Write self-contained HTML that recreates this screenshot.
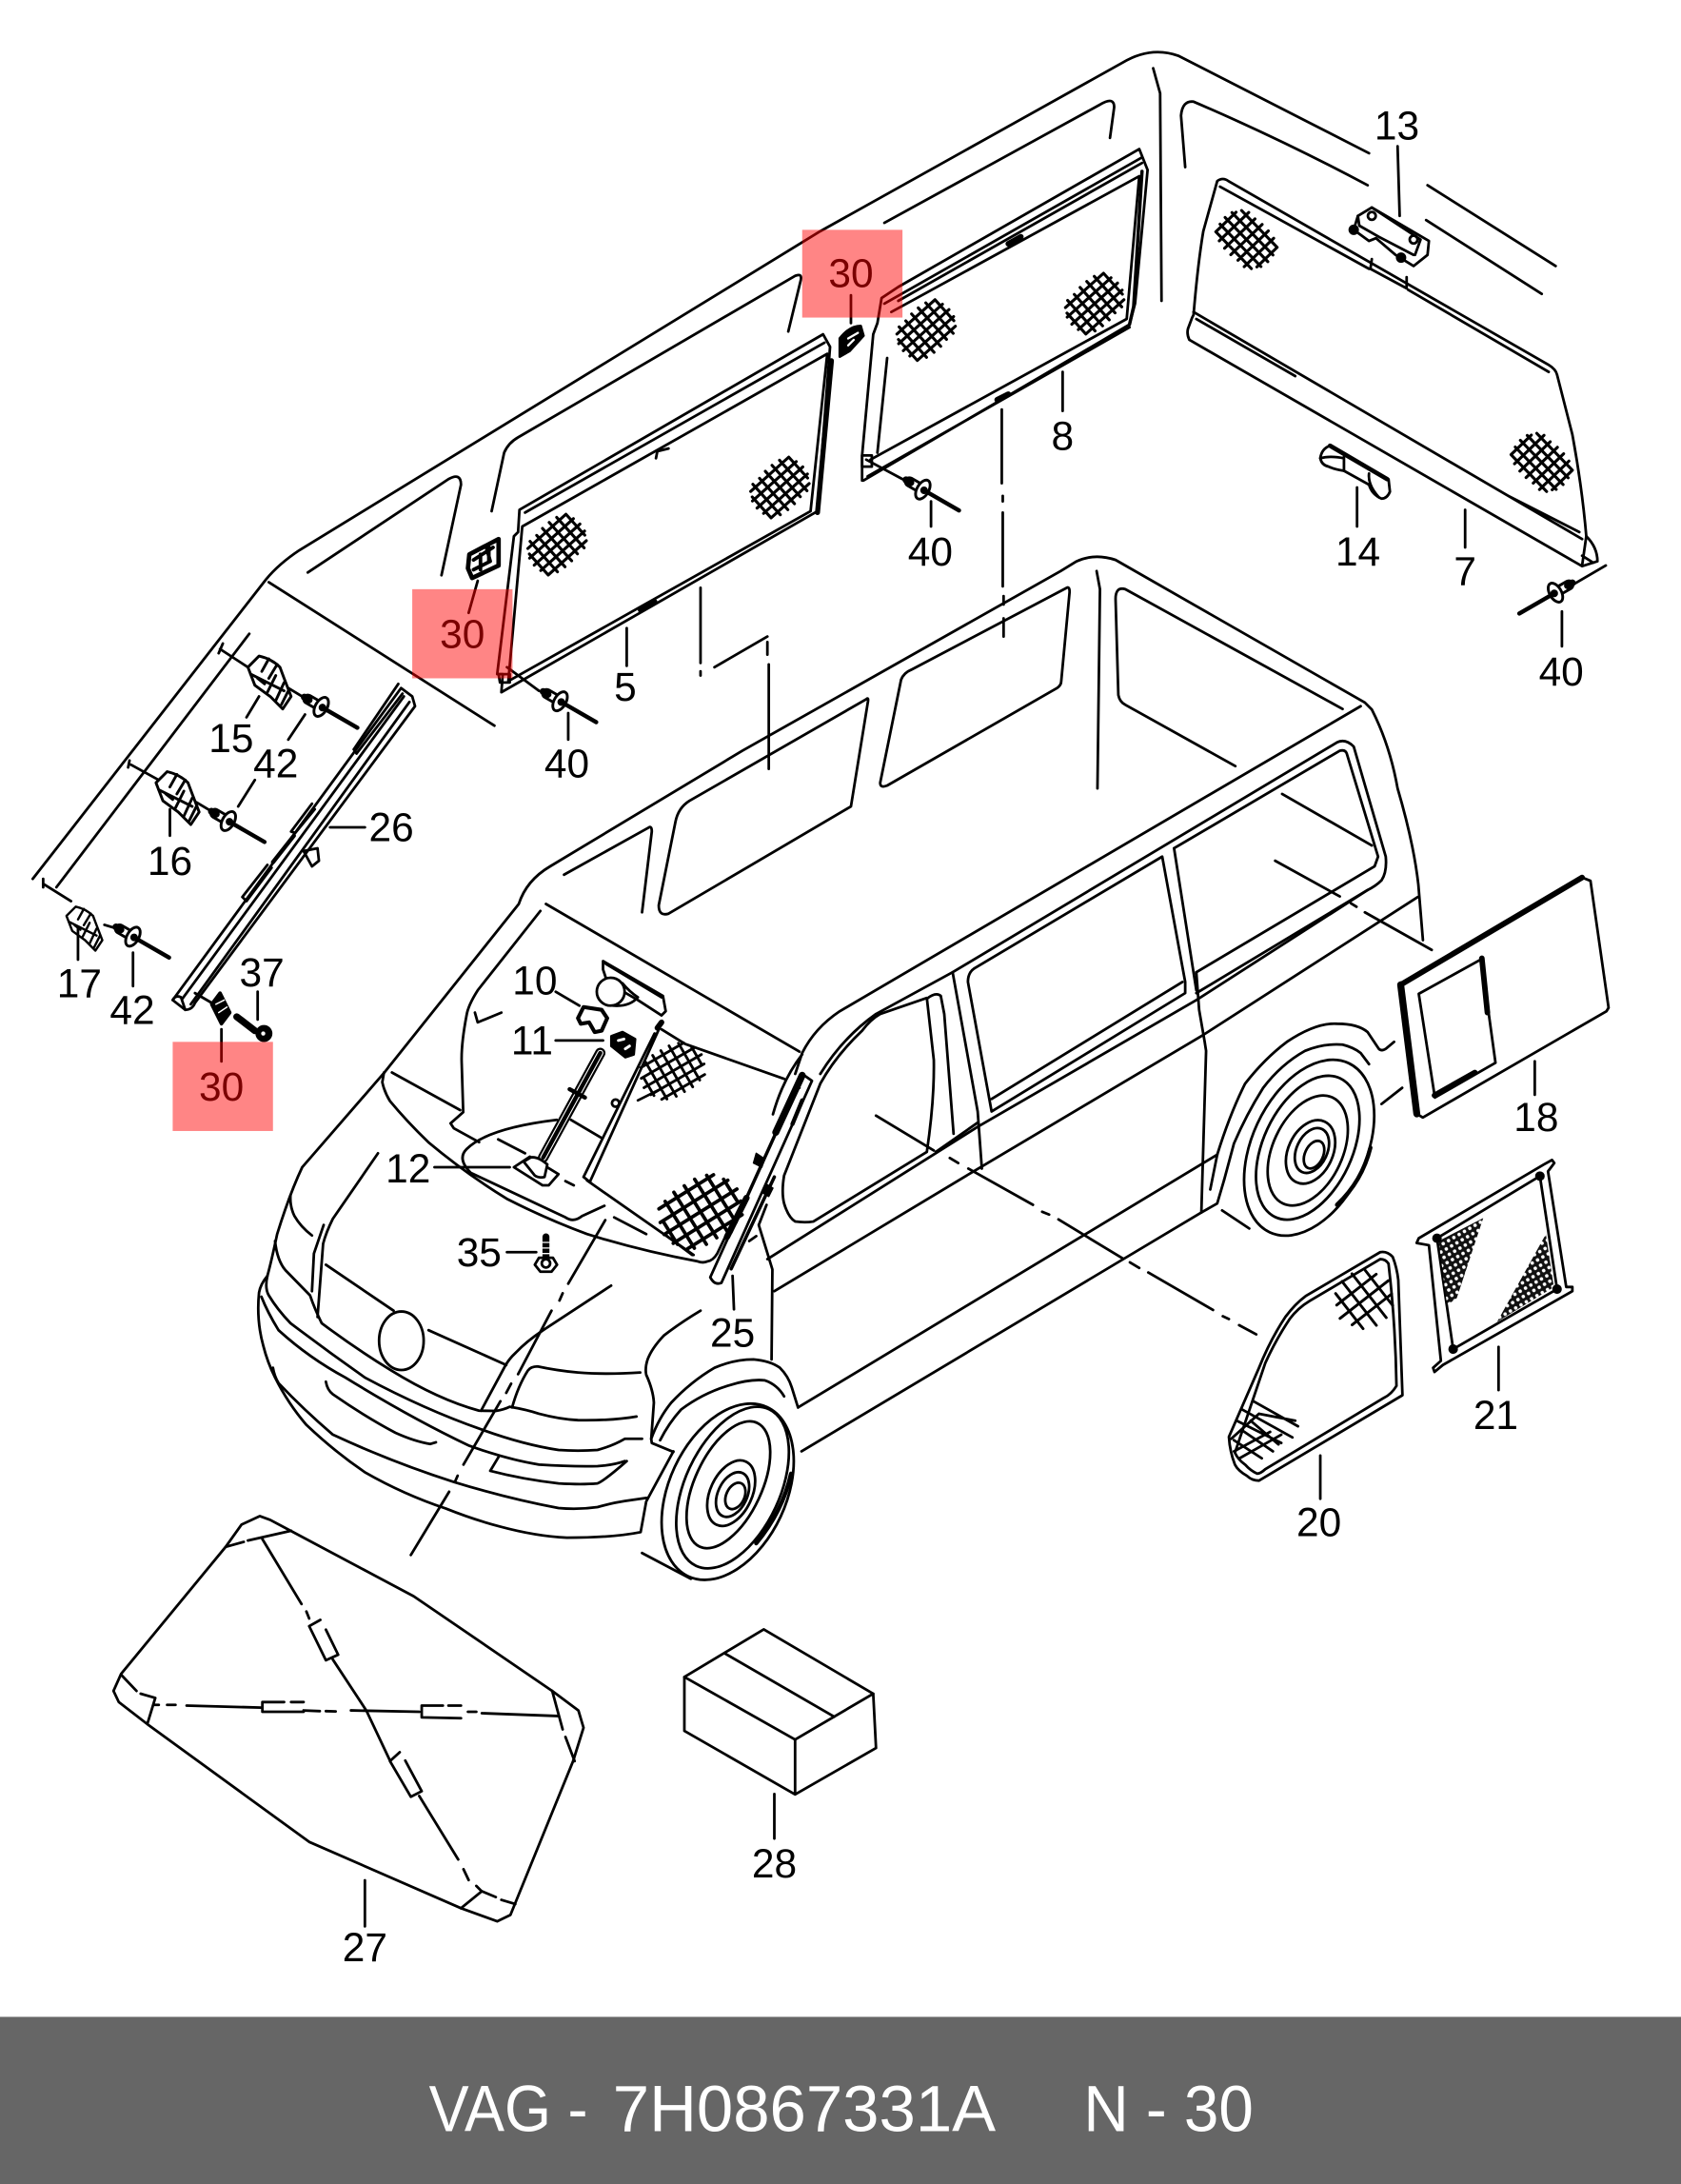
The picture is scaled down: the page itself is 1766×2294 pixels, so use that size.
<!DOCTYPE html>
<html><head><meta charset="utf-8"><title>VAG 7H0867331A</title>
<style>
html,body{margin:0;padding:0;background:#fff}
svg{display:block}
text{font-family:"Liberation Sans",sans-serif;font-size:29px;fill:#000;text-anchor:middle;stroke:none}
.f{fill:none;stroke:#000;stroke-width:1.9;stroke-linejoin:round;stroke-linecap:round}
</style></head>
<body>
<svg xmlns="http://www.w3.org/2000/svg" xmlns:xlink="http://www.w3.org/1999/xlink" width="1766" height="2294" viewBox="0 0 1207 1568" preserveAspectRatio="none">
<defs>
<g id="m" fill="none" stroke="#000" stroke-width="2.3">
<path d="M-19-13H21M-23-6.500H23M-24 0H24M-23 6.500H23M-21 13H19M-21-9V13M-14-16V16M-7-16V17M0-17V17M7-17V16M14-16V16M21-13V9"/>
</g>
<g id="m2" fill="none" stroke="#000" stroke-width="2.300">
<path d="M-22-16H20M-26-8H26M-28 0H28M-26 8H26M-20 16H22M-24-8V10M-16-18V18M-8-20V20M0-20V20M8-20V20M16-18V18M24-10V8"/>
</g>
<g id="m3" fill="none" stroke="#000" stroke-width="2">
<path d="M-18-9H18M-22 0H22M-18 9H18M-13.500-16V16M-4.500-20V20M4.500-20V20M13.500-16V16"/>
</g>
<g id="r">
<rect x="-15" y="-3" width="12" height="6" rx="3" fill="#fff" stroke="#000" stroke-width="2"/>
<path d="M-15 0h4" stroke="#000" stroke-width="5" stroke-linecap="round"/>
<path d="M0 0L29 0" stroke="#000" stroke-width="3" stroke-linecap="round"/>
<ellipse cx="-1" cy="0" rx="4.200" ry="7.500" fill="#fff" stroke="#000" stroke-width="2"/>
<circle cx="0" cy="0" r="1.800" fill="#000"/>
</g>
<g id="c" fill="#fff" stroke="#000" stroke-width="2" stroke-linejoin="round">
<path d="M186 471Q195 473 201 479L204 487L209 500L203 509L194 500L183 492L178 479Z"/>
<path fill="none" d="M193 473L188 482M199 477L193 487M180 484L204 496M190 491L185 487M198 485L192 497M204 490L198 503M207 496L202 506"/>
</g>
<pattern id="fine" width="4.400" height="4.400" patternUnits="userSpaceOnUse" patternTransform="rotate(-30)">
<rect width="4.400" height="4.400" fill="#111"/><circle cx="2.200" cy="2.200" r="1.250" fill="#fff"/>
</pattern>
</defs>

<g class="f">
<!-- ghost roof -->
<path d="M23.500 631L191 416Q200 405 215 395L589 166L806 45Q826 33 846 40L983 110"/>
<path d="M40.500 637L179 455M193 418L355 521"/>
<path d="M221 411L322 344Q331 339 331 348L317 413"/>
<path d="M353 367L362 325Q365 318 372 314L571 198Q576 196 575 201L566 238"/>
<path d="M635 160L790 75Q800 69 800 77L797 99"/>
<path d="M828 49L833 67L834 216"/>
<path d="M851 120L848 83Q849 72 857 73Q920 100 982 133"/>
<path d="M1025 133L1117 191M1024 158L1107 211"/>

<!-- panel 7 -->
<path d="M874 130Q878 127 882 130L1112 262Q1117 265 1118 269L1129 312Q1136 350 1139 385Q1147 393 1147 403L1136 406.500L854 244Q852 240 853 236L856 228L857 226Q860 190 864 166Z"/>
<path d="M857 224L1136 387M859 229L930 270M1083 356L1134 382M876 134L983 193M1011 208L1112 267"/>
<path d="M985 186L984 193L1010 207L1010 199M1139 385L1136 406M1136 399L1144 404"/>
<use xlink:href="#m" transform="translate(895 172) rotate(46) scale(.92)"/>
<use xlink:href="#m" transform="translate(1107 332) rotate(46) scale(.92)"/>
<path d="M1153 406L1129 420"/>
<use xlink:href="#r" transform="translate(1116 426) rotate(150)"/>

<!-- part 13 -->
<path d="M975 155L985 149L1026 173L1025 183L1015 191L1002 183L988 171L983 173L972 165L975 155Z" fill="#fff"/>
<path d="M975 155L976 162L990 170L1015 183M985 149L1020 172L1016 183"/>
<circle cx="972" cy="165" r="2.800" fill="#000"/><circle cx="1015" cy="172" r="2.800"/><circle cx="985" cy="155" r="2.800"/><circle cx="1006" cy="185" r="2.800" fill="#000"/>
<!-- part 14 -->
<path d="M948 329Q949 322 955 320L997 344L998 353Q996 358 992 358Q985 355 983 348L965 338Q958 337 954 335Q949 334 948 329Z" fill="#fff"/>
<path d="M955 320L996 344" stroke-width="3.200"/>
<path d="M965 328V338M983 340Q982 348 990 357M948 329Q955 327 965 329"/>

<!-- panel 5 -->
<path d="M360 497L587 367L596 249L591 240L373 366L372 382L369 385L357 484L361 484Z"/>
<path d="M375 378L594 254L582 367L365 489Z"/>
<path d="M377 368L592 246"/>
<path d="M597 259L587 368" stroke-width="3.600"/>
<path d="M358 484H366V490H359Z"/>
<path d="M471 329L472 324L480 322"/>
<path d="M460 438L470 432" stroke-width="4"/>
<use xlink:href="#m" transform="translate(400 391) rotate(-42) scale(.92)"/>
<use xlink:href="#m" transform="translate(560 350) rotate(-42) scale(.92)"/>
<path d="M364 479L387 496"/>
<use xlink:href="#r" transform="translate(403 504) rotate(30)"/>
<!-- panel 8 -->
<path d="M620 345L811 233L815 218L824 122L818 107L645 206L633 214L630 232L627 240L619 327V345Z"/>
<path d="M625 330L809 229L818 126.500L640 224M637 257L630 325M645 216L820 117M635 218L820 113M623 342L811 235"/>
<path d="M811 233L814 220L820 123" stroke-width="2.400"/>
<path d="M619 327H626V335H619Z"/>
<path d="M724 175L733 170M716 287L724 283" stroke-width="4"/>
<use xlink:href="#m" transform="translate(665 237) rotate(-42) scale(.92)"/>
<use xlink:href="#m" transform="translate(786 218) rotate(-42) scale(.92)"/>
<path d="M622 330L648 344"/>
<use xlink:href="#r" transform="translate(663.500 352) rotate(30)"/>
<!-- clips 30 -->
<path d="M337 398L358 387L358 406L339 415L336 408Z" stroke-width="3.200" fill="#fff"/>
<path d="M340 402L354 393M340 409L352 403L349 392M345 398V409M351 393V403" stroke-width="2.600"/>
<path d="M603 243Q610 234 618 234L620 241L610 252L603 256Z" fill="#000"/>
<path d="M609 243L616 239M609 248L613 244" stroke="#fff" stroke-width="1.600"/>

<!-- dash lines upper -->
<path d="M503 422V476M503 482V485M513 479L551 457M551 461V470M552 477V552"/>
<path d="M719.300 294V347M720 356V360M720 368V421M720.600 428V434M720.600 444V457"/>

<!-- left column -->
<path d="M158 466L178 479M160 462L157 469M94 549L114 560M93 546L92 551M31 634.500L51 647M31 631L31 637M207 494L217 500M141 576L151 582M75 664L85 667"/>
<use xlink:href="#c"/>
<use xlink:href="#c" transform="translate(-66 83)"/>
<use xlink:href="#c" transform="translate(-100 260) scale(.83)"/>
<use xlink:href="#r" transform="translate(231.500 508) rotate(30)"/>
<use xlink:href="#r" transform="translate(164.800 590) rotate(30)"/>
<use xlink:href="#r" transform="translate(96.300 673) rotate(30)"/>
<!-- rail 26 -->
<path d="M124 718L133 725Q138 725 140 720L298 507L296 500L288 494Z"/>
<path d="M124 718Q126 714 130 716L133 725M131 717L290 500M137 721L294 504"/>
<path d="M254 538L286 491M256 541L289 498M254 538L256 541M209 597L224 577M212 598L226 581M209 597L212 598M174 644L192 621M177 647L195 623M174 644L177 647"/>
<path d="M196 619L211 600" stroke-width="3"/>
<path d="M218 611L228 609L229 618L224 622L218 611"/>
<!-- 37 + 30 part -->
<path d="M140 713L152 720"/>
<path d="M152 721L158 713L165 727L159 735Z" fill="#000" stroke-width="2.500"/>
<path d="M155 721L161 718M157 727L163 723" stroke="#fff" stroke-width="1"/>
<path d="M170 730L183 740" stroke-width="5"/>
<circle cx="189.500" cy="742" r="5.600" fill="#000" stroke-width="1"/><circle cx="189" cy="742" r="1.500" fill="#fff" stroke="none"/>

<!-- leaders -->
<path d="M1003.500 105L1005 155M974.400 350V378M1052 366V393M1121.500 439V464M668.500 360V378M450 451V478M408 512V531M763 267V295M343 417L336.500 440M611 212V232M186 500L177 515M219 513L207 531M183 560L171 579M122 581V600M56 666V689M95.500 684V708M185 712V732M159 739V762M237 594H262"/>
<path d="M399 712L416 722M399 747H433M312 838H366M364 899H385M526 916L527 940M1102 762V786M1076 967V998M948 1045V1076M262 1350V1383M556 1288V1320"/>

<!-- main van roof -->
<path d="M276 770L372.500 649Q378 632 395 622L533 539L761.600 410L773 403Q786 397 801 402L980 504.400L985 509.400Q998 535 1003.500 566Q1015 605 1018.400 635L1021.700 675"/>
<path d="M654 481L766 422Q768 421 768 425L762 489Q762 492 759 494L637 564Q632 566 632 562L647 488Q649 483 654 481Z"/>
<path d="M622 502L495 575Q487 580 485 590L473 650Q473 658 480 656L611 579L623 505Q624 500 622 502Z"/>
<path d="M405 628L466 594Q468 593 468 597L461 655"/>
<path d="M787.400 410L789.800 423L788 566"/>
<path d="M964 509L808 423Q801 421 801 430L803 499Q804 504 808 506L887 550"/>
<path d="M977 507L603 726Q585 738 576 756M392 649L574 755"/>
<!-- side windows -->
<path d="M589 771Q605 745 629 728L684 698L960 533Q966 530 972 536L995 615Q996 626 992 632Q988 636 982 639L859 713"/>
<path d="M843 609L962 539Q966 538 967 541L989.500 615L987 622L859 698"/>
<path d="M843 609L859 711"/>
<path d="M834.500 615L700 695Q695 698 695 705L712 798L851 713L851 705Z"/>
<path d="M712 789L849 705"/>
<path d="M684 698L702 798L705 839"/>
<path d="M665.500 716.500L632 728Q625 732 619 740Q600 758 589 778L563 844Q561 856 563 864Q566 874 571 877Q578 878 584 877L665.500 827Q671 790 670.500 761L665.500 716.500"/>
<path d="M665.500 717Q672 712 675.500 715L678 728L684.700 814"/>
<path d="M672 827L702 806"/>
<path d="M551 904L702 809L859 718L982 639"/>
<path d="M556 927L699 841L864 743L1018 644"/>
<path d="M573 1010.500L874 829M575.500 1042L862.600 870.500L874 864L879 847"/>
<path d="M859 698L861 725L865 748L866 754.500L862.600 870.500"/>
<path d="M920.600 570L985 607"/>
<!-- rear wheel -->
<path d="M869 854L874 829Q883 800 894 778Q908 760 924 748Q945 734 960 735Q975 735 982 741L990 753Q992 755 995 753L1001 748"/>
<path d="M879 847L886 821Q895 800 907 781Q920 764 937 754.500Q950 749 964 750Q972 752 977 756L983 764"/>
<path d="M877.500 869L897 882"/>
<ellipse cx="940" cy="824" rx="41" ry="67" transform="rotate(25 940 824)"/>
<ellipse cx="939" cy="824" rx="32" ry="55" transform="rotate(25 939 824)"/>
<ellipse cx="939" cy="826" rx="25" ry="42" transform="rotate(25 939 826)"/>
<ellipse cx="941" cy="827" rx="16" ry="24" transform="rotate(25 941 827)"/>
<ellipse cx="942" cy="826" rx="11" ry="17" transform="rotate(25 942 826)"/>
<ellipse cx="943.500" cy="829" rx="6.500" ry="10.500" transform="rotate(25 943.500 829)"/>
<path d="M984 824Q978 848 960 865" stroke-width="3"/>

<!-- windshield -->
<path d="M388 654L343 711Q336 722 335 729Q331 750 331.500 763L332.600 798.500L323.500 806.500L325.800 810L344 820"/>
<path d="M341 727L343 734L360 727M281.400 770L330.400 797"/>
<path d="M275.700 770L274.500 777Q276 784 280 790.500Q292 805 307.500 820Q335 843 364.500 861Q392 875 421.500 886Q460 898 501 905.600Q505 907 508 905.600Q512 905 515 900L521.700 886"/>
<path d="M399.800 804Q350 810 335 825Q328 832 338 842L406 874Q412 878 418 873L434 865.700"/>
<path d="M357.700 818L377 828M441 874L464 886M477 886L497 901M410 804L432 817M406 848L412 851"/>
<!-- glass -->
<path d="M419 845L470 742M424 847.500L474 737M419 845L424 849"/>
<path d="M472 738L475 734" stroke-width="4"/>
<path d="M421.500 847.500L498 901"/>
<path d="M475 739L492 749.500L563 774.600"/>
<circle cx="442" cy="792" r="2.600"/>
<path d="M458 790L472 783" stroke-width="1.800"/>
<use xlink:href="#m2" transform="translate(483 769) rotate(-30) scale(.85)"/>
<use xlink:href="#m2" transform="translate(503 870) rotate(-32) scale(1.100)"/>
<!-- part 25 -->
<path d="M510 917L576 771L583 776L518 921Q513 923 510 917Z"/>
<path d="M576 772L557 813" stroke-width="5"/>
<path d="M536 860L522 888" stroke-width="4.500"/>
<path d="M576 790L569 807" stroke-width="3"/>
<path d="M558 812L525 885M572 778L574 781"/>
<path d="M556 845L525 911" stroke-width="2.400"/>
<path d="M543 828L549 832L547 838L541 835Z M550 850L555 853L552 859L547 856Z" fill="#000" stroke-width="1"/>
<path d="M576 756L571 771M576 757Q562 775 555 800"/>
<!-- part 12 -->
<path d="M431 756L390 831" stroke-width="7.500"/>
<path d="M431 756L390 831" stroke="#fff" stroke-width="4.500"/>
<path d="M431 756L390 831" stroke-width="3"/>
<path d="M409 782L420 788" stroke-width="3"/>
<path d="M369 838L380.500 830.400L401 843L394 851L389.600 851Z" fill="#fff"/>
<path d="M376 834L381 831Q386 830 393 836L391 845Q387 846 384 844Z" fill="#fff"/>
<!-- mirror -->
<path d="M433 690L476 715L478 726L475 729L458 718L439 707L435 702L433 696Z" fill="#fff"/>
<path d="M435 692L475 716"/>
<circle cx="438.500" cy="712" r="10" fill="#fff"/>
<path d="M447 706Q452 712 458 716Q452 723 440 722"/>
<!-- 10, 11, 35 -->
<path d="M415 731L419 723L432 725L436 731L432 740L427 741L423 734L417 735Z" stroke-width="2.800"/>
<path d="M439 744L447 741L456 746L455 757L449 759L439 751Z" fill="#000"/>
<path d="M444 747L448 746M449 753L452 751" stroke="#fff" stroke-width="2"/>
<path d="M392 888V902" stroke-width="5"/>
<path d="M388 892H396M388 896H396M388 900H396" stroke="#fff" stroke-width=".9"/>
<path d="M387 903L397 903L400 908L396 913H388L384 908Z" fill="#fff"/>
<circle cx="392" cy="907" r="3"/>

<!-- front van -->
<path d="M276 770L217 838Q208 857 199 886Q195 905 192 916Q187 922 186 928Q184 948 189 966Q192 978 197.500 989Q207 1008 220 1023Q240 1042 262 1057Q290 1073 320 1083Q340 1091 359 1096Q385 1103 407 1104Q440 1104 460 1100L464 1078L483.500 1042"/>
<path d="M271.400 828L239 875Q234 885 232 893L228 945.600"/>
<path d="M208.600 858Q208 866 211.400 873Q216 881 224 887"/>
<path d="M232.400 879.500L225.400 900L224 927"/>
<path d="M197.500 891Q199 905 205 912L222.600 930Q226 940 231 950Q255 968 281 984Q315 1005 344 1012.800L356 1013Q362 1012 366 1010Q378 1012 387 1015Q402 1019 415 1019.600Q440 1020 457 1017"/>
<path d="M234 908L282.600 941M307.700 955L363.500 980"/>
<ellipse cx="288.200" cy="962.600" rx="16" ry="21"/>
<path d="M438.800 923L390 955Q378 963 370.500 971Q365 976 362 982L345.400 1012.800"/>
<path d="M459.700 985.400Q435 987 415 985.400Q400 984 386 981Q381 981 379 984Q372 995 367.700 1010.500"/>
<path d="M192 916Q190 925 193 930Q199 940 208.600 950Q235 970 262 989Q305 1012 345 1026Q375 1037 401 1041Q415 1042 429 1041Q440 1038 448.600 1033L461 1033"/>
<path d="M187.700 931Q192 942 200 955Q222 975 248 989Q295 1018 337 1038Q365 1048 387 1051.500Q410 1053 429 1052.600Q440 1052 448.600 1049"/>
<path d="M358 1046L352 1056Q375 1062 401 1065Q418 1066 429 1065Q434 1063 450 1049"/>
<path d="M234 992Q235 998 239 1001Q262 1017 284 1028.700Q298 1035 309 1036.700L313 1035.500"/>
<path d="M196 982Q197 988 200 993Q218 1012 239 1030Q282 1050 326 1064Q365 1076 401 1082.700Q415 1084 429 1082Q440 1079 448.600 1077.700L464 1075.400"/>
<!-- front wheel -->
<path d="M474 1034Q480 1022 489 1012Q505 1000 524 994.500Q538 990 549 991Q558 994 563 1002.500"/>
<path d="M467.600 1033Q473 1018 482 1007Q496 992 513 982Q527 976 541 976Q553 977 560 982Q566 988 568.500 996L573 1010.500"/>
<path d="M467.600 1033L468 1036L483.500 1042.400M503 941Q488 950 476.500 959Q468 968 465 976Q463 982 464 987Q469 998 469.500 1007L467.600 1033"/>
<path d="M461 1115L496 1133.500"/>
<path d="M550.400 865L544.800 879.500L550.400 897.700L554.600 911.400L554 976M538 891L543 887.500"/>
<ellipse cx="522.500" cy="1071" rx="42" ry="67" transform="rotate(25 522.500 1071)"/>
<ellipse cx="526" cy="1068" rx="34" ry="62" transform="rotate(25 526 1068)"/>
<ellipse cx="523" cy="1066" rx="24" ry="49" transform="rotate(25 523 1066)"/>
<ellipse cx="525" cy="1072" rx="15" ry="25" transform="rotate(25 525 1072)"/>
<ellipse cx="526" cy="1073" rx="10.500" ry="17" transform="rotate(25 526 1073)"/>
<ellipse cx="528" cy="1074" rx="6.500" ry="10" transform="rotate(25 528 1074)"/>
<path d="M568 1058Q562 1085 543 1108" stroke-width="3"/>

<!-- dash lines -->
<path d="M434.600 876L408 921.600M404 928.500L401.700 933.700M396 941L372 986.600M367 993.400L363.500 1000M359.300 1006L332.800 1051.500M328.600 1059.500L326.600 1064M322.500 1071L295 1116.400"/>
<path d="M915.600 618L962 643.600M970 648.500L974 651M980 655L1028 682"/>
<path d="M629 801L670.500 826M682 831.400L688 835M695.300 839L741.700 865M748.300 870L753.300 872M760 875.500L806.300 903.600M811.300 906.300L818 910.300M824.500 913.600L871 940.500M878 945L882.400 947M889.700 951.400L902 958"/>
<path d="M992 792.600L1006.800 781"/>

<!-- panel 18 -->
<path d="M1005.700 707L1136 630L1142 632.400L1155 723.500L1153.500 726L1021.600 802.300L1017.300 799.700Z"/>
<path d="M1005.700 707L1136 630" stroke-width="4"/>
<path d="M1005.700 707L1017.300 799.700" stroke-width="5"/>
<path d="M1018.700 713.500L1063.600 688.700L1073.800 763L1030.300 788Z"/>
<path d="M1064 688L1068 727" stroke-width="4"/>
<path d="M1030 786.400L1059 770" stroke-width="4"/>

<!-- part 20 -->
<path d="M882.400 1031.600L904 982Q912 962 923 945.400Q930 936 937.500 930.500L991 899Q996 898 1000 902.400Q1003 910 1004 919L1007 1001.700L904 1063Q899 1063 895.500 1059.700Q889 1056 886.700 1051.500Q883 1042 882.400 1031.600Z"/>
<path d="M886.700 1043L908.500 978.600Q916 962 926 947Q932 939 940.400 934L991 904Q995 904 997 907.300Q1002 950 1002.700 995Q999 1001 994 1003.400L908.500 1054.800Q905 1058 902.700 1058Q898 1056 894 1051.500Q889 1048 886.700 1043Z"/>
<use xlink:href="#m3" transform="translate(979.500 933) rotate(-38)"/>
<path d="M884 1033L904 1015L930 1020M888 1020L920 1036M892 1012L928 1032M900 1006L932 1024M886 1042L912 1028M890 1047L920 1030M886 1034L906 1047M892 1027L914 1042M898 1020L918 1037" stroke-width="1.900"/>
<!-- part 21 -->
<path d="M1018.700 889L1108.600 836L1114.400 832.800L1116 835L1111.500 841L1124.600 924L1129 924V927L1036 980L1030 985L1029 982L1034.600 977L1026 894L1017.200 892.400Z"/>
<path d="M1031.800 889L1105.700 844.400L1118 925.500L1043.400 968.600Z"/>
<polygon points="1033,891 1065,874.500 1046,932 1039,937" fill="url(#fine)" stroke="none"/>
<polygon points="1110,886 1115.700,924 1075,949" fill="url(#fine)" stroke="none"/>
<circle cx="1031.800" cy="889" r="2.500" fill="#000"/><circle cx="1105.700" cy="844.400" r="2.500" fill="#000"/><circle cx="1118" cy="925.500" r="2.500" fill="#000"/><circle cx="1043.400" cy="968.600" r="2.500" fill="#000"/>

<!-- windscreen 27 -->
<path d="M186.500 1088.500L173.400 1094.600L162 1110.600L87 1201.700L81.500 1214L85.300 1222L106 1238L222 1322.400L331 1370L357 1379.400L366.500 1374.800L411.500 1264.400L419 1240.400L415.300 1228L396.500 1214L297 1146L209 1099.200L194 1091.200Z"/>
<path d="M162 1110.600L175 1107M178 1106L209 1099"/>
<path d="M87 1202.400L98 1214M101 1216L111.500 1219L106 1237"/>
<path d="M396.500 1214L404 1241.600M406 1247L412.600 1264.400"/>
<path d="M331 1370L346 1357.800L356 1362M360 1364L370 1367"/>
<path d="M188.400 1105L216.500 1151.600M220 1157L222 1162M222 1167.500L230 1163M234 1170L242.800 1188L234 1192L222 1167.500M239 1191.500L263 1228L280 1264M280 1264.400L287 1258M291 1264L302.800 1286L295 1290L280 1264.400M301 1289.400L329 1335M332.800 1342L336.500 1349.800M342 1354L346 1358"/>
<path d="M111 1224H114M120 1224H126M134 1224.500L187.700 1226M188.400 1222H204M209 1222H218M188.400 1222V1229H218M218 1228L229.600 1228.500M234 1228.500L241 1228.700M252 1228L301 1229M302.800 1224.500H318M322 1224.500H331M302.800 1224.500V1233L331 1233.600M336 1229H342M346 1230L400.300 1232"/>
<!-- box 28 -->
<path d="M548.400 1169.800L627 1216L570.900 1248.900L491.400 1204Z"/>
<path d="M491.400 1204V1242.700L570.900 1288.300L629 1255L627 1216M570.900 1248.900V1288.300M520.300 1187L599 1232.500"/>
</g>

<!-- labels -->
<text x="1003" y="100">13</text>
<text x="763" y="323">8</text>
<text x="449" y="503">5</text>
<text x="668" y="406">40</text>
<text x="975" y="406">14</text>
<text x="1052" y="420">7</text>
<text x="1121" y="492">40</text>
<text x="166" y="540">15</text>
<text x="198" y="558">42</text>
<text x="122" y="628">16</text>
<text x="281" y="604">26</text>
<text x="57" y="716">17</text>
<text x="95" y="735">42</text>
<text x="188" y="708">37</text>
<text x="407" y="558">40</text>
<text x="1103" y="812">18</text>
<text x="384" y="714">10</text>
<text x="382" y="757">11</text>
<text x="293" y="849">12</text>
<text x="344" y="909">35</text>
<text x="526" y="967">25</text>
<text x="1074" y="1026">21</text>
<text x="947" y="1103">20</text>
<text x="262" y="1408">27</text>
<text x="556" y="1348">28</text>
<text x="611" y="206">30</text>
<text x="332" y="465">30</text>
<text x="159" y="790">30</text>

<!-- highlights -->
<rect x="576" y="165" width="72" height="63" fill="#f00" fill-opacity=".48"/>
<rect x="296" y="423" width="72" height="64" fill="#f00" fill-opacity=".48"/>
<rect x="124" y="748" width="72" height="64" fill="#f00" fill-opacity=".48"/>

<!-- footer -->
<rect x="0" y="1448" width="1207" height="120" fill="#666"/>
<text x="308" y="1530" textLength="114" lengthAdjust="spacingAndGlyphs" style="font-size:47px;fill:#fff;text-anchor:start">VAG -</text>
<text x="440" y="1530" textLength="275" lengthAdjust="spacingAndGlyphs" style="font-size:47px;fill:#fff;text-anchor:start">7H0867331A</text>
<text x="778" y="1530" textLength="122" lengthAdjust="spacingAndGlyphs" style="font-size:47px;fill:#fff;text-anchor:start">N - 30</text>
</svg>
</body></html>
